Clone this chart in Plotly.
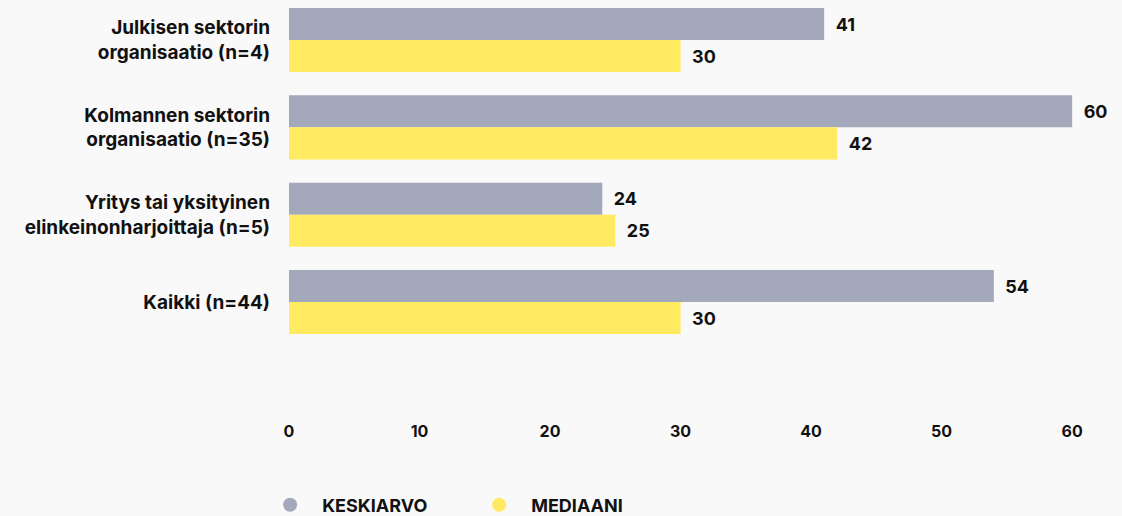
import plotly.graph_objects as go

categories = [
    "Julkisen sektorin<br>organisaatio (n=4)",
    "Kolmannen sektorin<br>organisaatio (n=35)",
    "Yritys tai yksityinen<br>elinkeinonharjoittaja (n=5)",
    "Kaikki (n=44)",
]
keskiarvo = [41, 60, 24, 54]
mediaani = [30, 42, 25, 30]
series_names = ["KESKIARVO", "MEDIAANI"]
tick_values = [0, 10, 20, 30, 40, 50, 60]

GRAY = "#a3a8ba"
YELLOW = "#ffea61"
BG = "#f9f9f9"
FONT = "Inter"
TXT = "#111111"

fig = go.Figure()
for name, vals, col in [(series_names[0], keskiarvo, GRAY), (series_names[1], mediaani, YELLOW)]:
    fig.add_trace(go.Bar(
        y=categories, x=vals, orientation="h", name=name,
        marker=dict(color=col, line=dict(width=0)),
        text=vals, texttemplate="\u00a0\u00a0%{x}", textposition="outside",
        textfont=dict(family=FONT, size=18, color=TXT, weight=700),
        cliponaxis=False, showlegend=False,
    ))
    fig.add_trace(go.Scatter(
        x=[None], y=[None], mode="markers", name=name,
        marker=dict(symbol="circle", size=14, color=col),
        showlegend=True,
    ))

fig.update_layout(
    width=1122, height=516,
    paper_bgcolor=BG, plot_bgcolor=BG,
    margin=dict(l=289, r=12, t=0, b=96, autoexpand=False),
    barmode="group", bargap=0.267, bargroupgap=0,
    font=dict(family=FONT, size=18, color=TXT),
    xaxis=dict(range=[0, 62.9], tickvals=tick_values, showgrid=False, zeroline=False,
               showline=False, ticks="", tickfont=dict(family=FONT, size=16, color=TXT, weight=700),
               fixedrange=True, automargin=False),
    yaxis=dict(type="category", categoryorder="array", categoryarray=categories,
               range=[4.35, -0.458], showgrid=False, zeroline=False, showline=False,
               ticks="", ticklabelstandoff=18, automargin=False,
               tickfont=dict(family=FONT, size=19, color=TXT, weight=700)),
    legend=dict(orientation="h", x=-0.0376, xanchor="left",
                yref="container", y=11 / 516, yanchor="middle",
                font=dict(family=FONT, size=18, color=TXT, weight=700),
                itemwidth=54,
                entrywidth=140, entrywidthmode="pixels", bgcolor="rgba(0,0,0,0)"),
)

fig.write_html(
    "out.html",
    config={"displayModeBar": False},
    post_script="document.body.style.margin='0';document.body.style.background='#f9f9f9';",
)
